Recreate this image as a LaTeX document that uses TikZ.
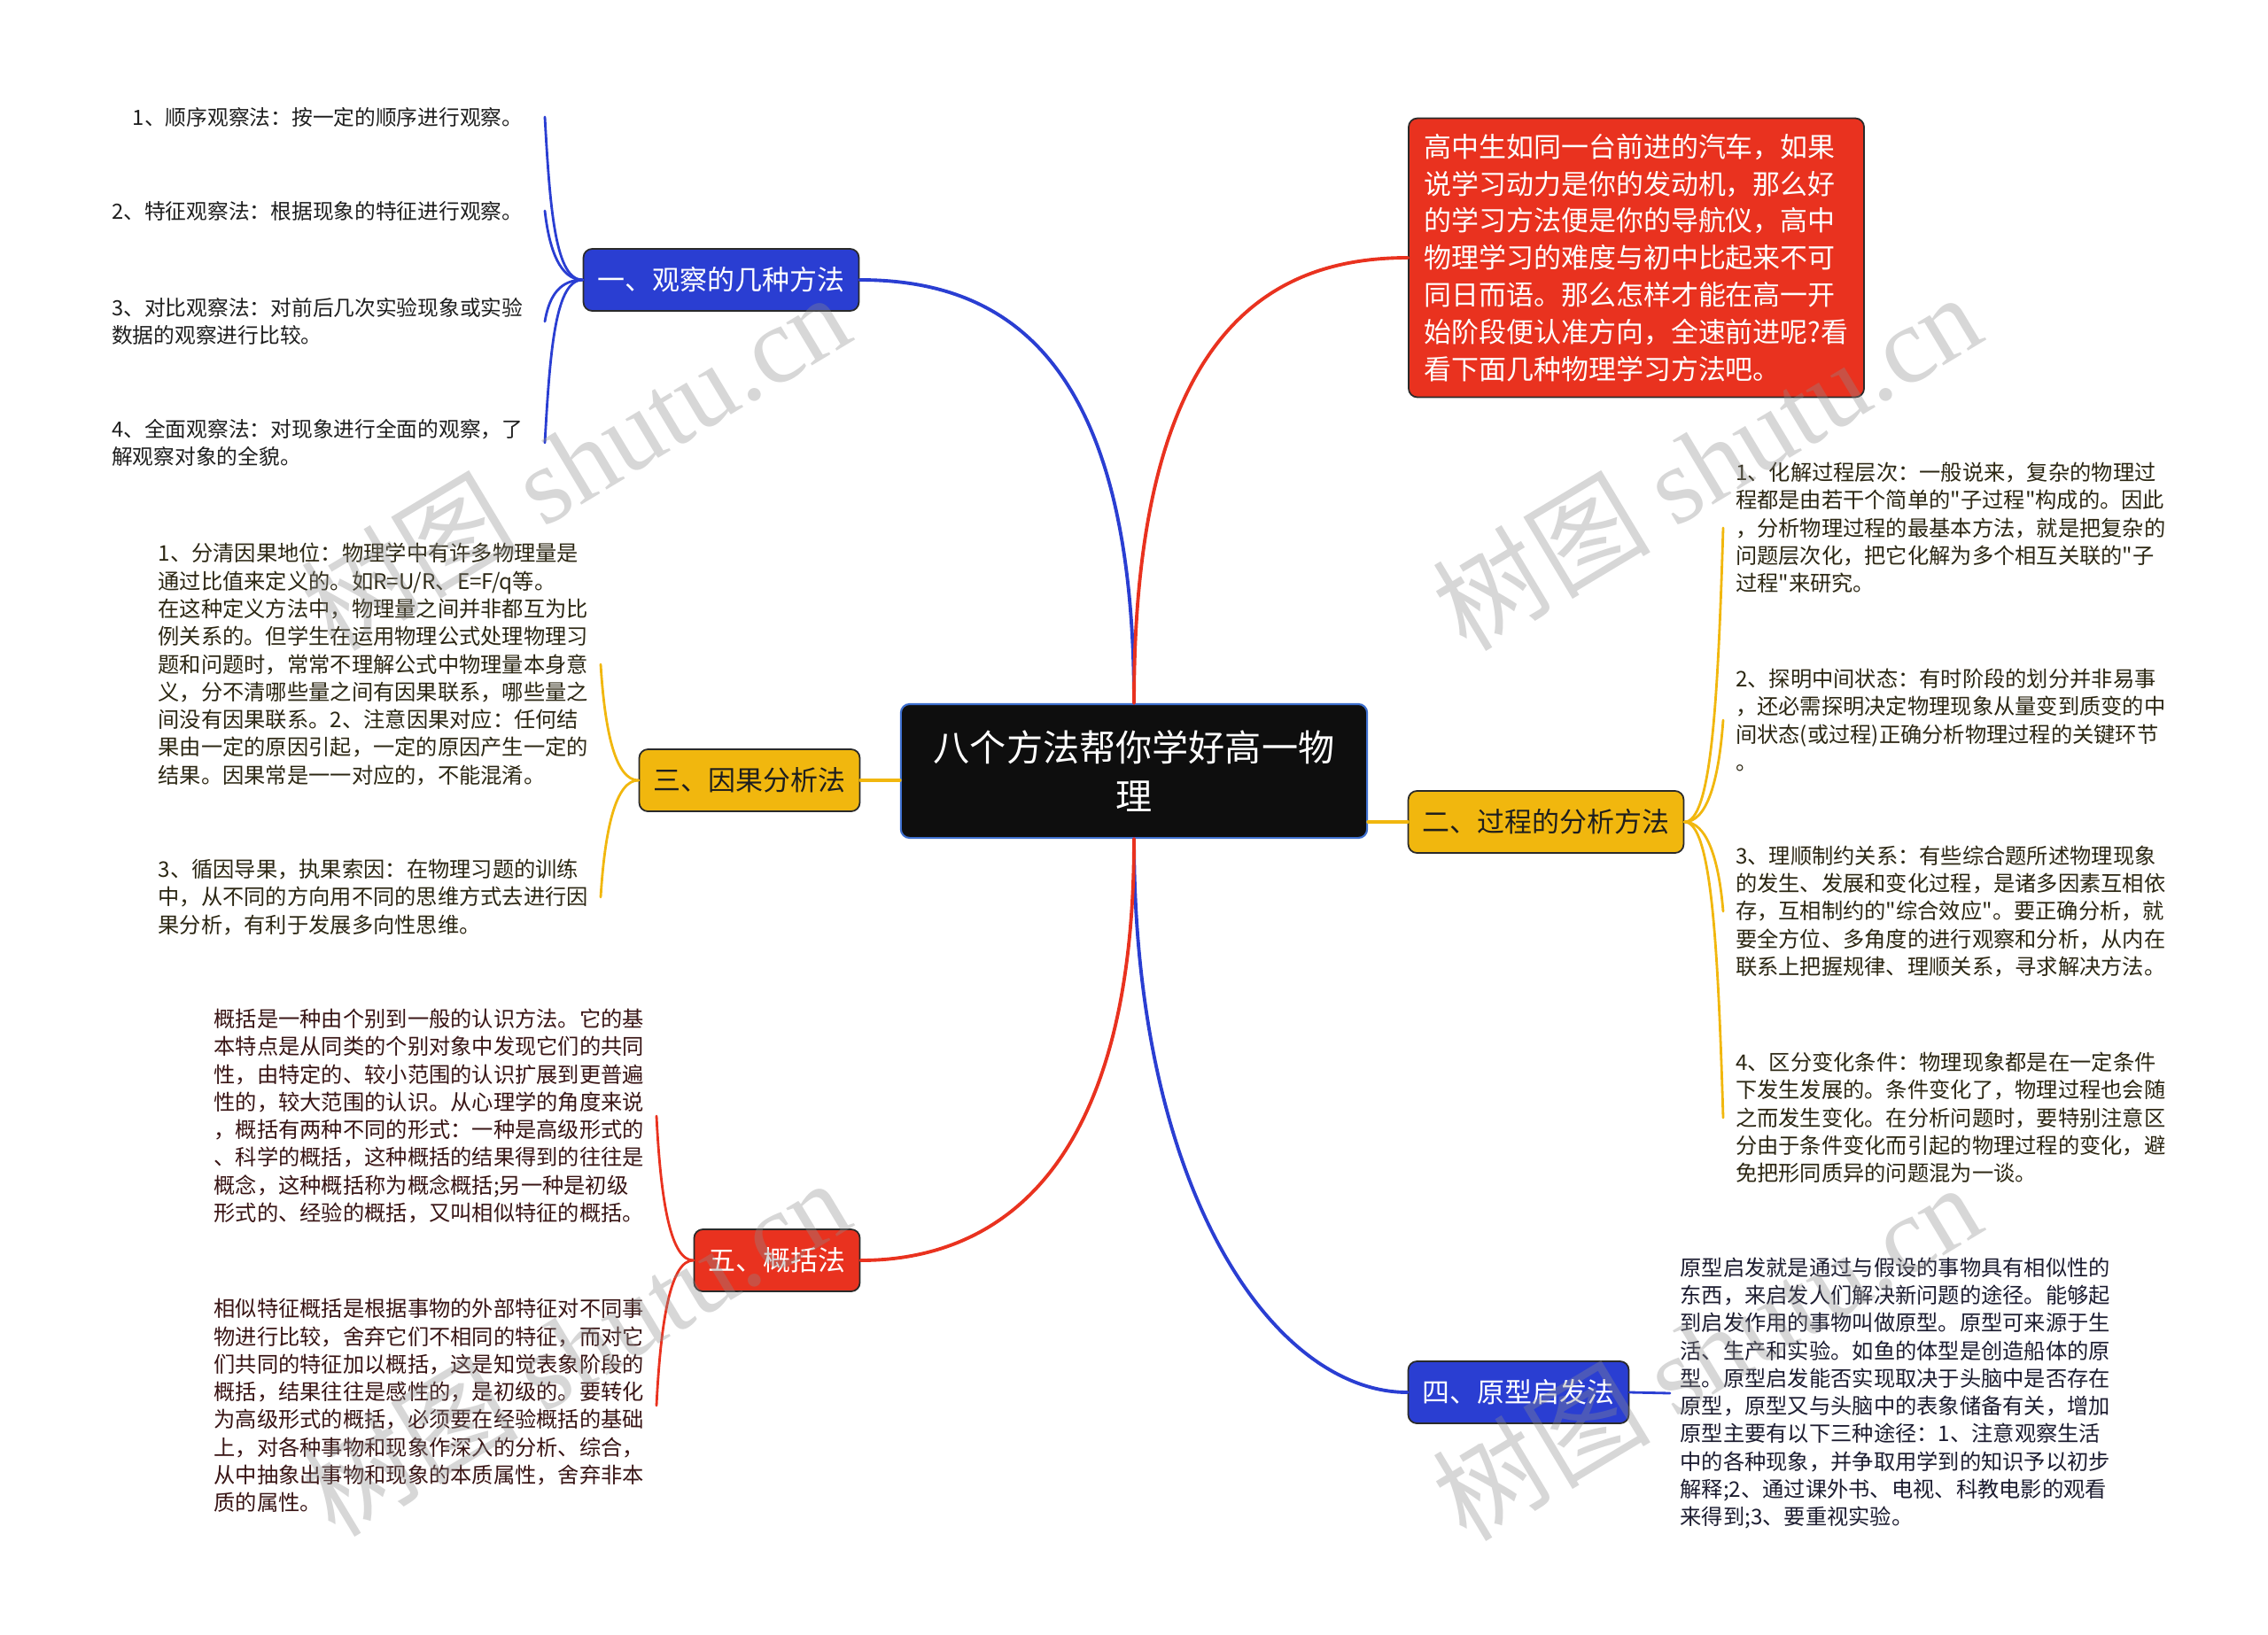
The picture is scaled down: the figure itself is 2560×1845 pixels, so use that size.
\documentclass[tikz,border=0pt]{standalone}
\usepackage{fontspec}
\setmainfont{Noto Sans CJK SC}[Ligatures=TeXOff] % 中文正文字体，保留直引号
\newfontfamily\wmlatin{Liberation Serif} % 水印里的西文
\usetikzlibrary{positioning}

% ---- 配色 ----
\definecolor{mapblue}{HTML}{2A3ED2}
\definecolor{mapred}{HTML}{E9321F}
\definecolor{mapyellow}{HTML}{F1B70E}
\definecolor{mapblack}{HTML}{0E0E0E}
\definecolor{rimblue}{HTML}{3E70CF}
\definecolor{boxrim}{HTML}{2A2A2A}
\definecolor{inkgray}{HTML}{1E1E1E}
\definecolor{inkyellow}{HTML}{2B2612}
\definecolor{inkred}{HTML}{381414}
\definecolor{inkblue}{HTML}{1C1C30}

\tikzset{
  hub/.style={rounded corners=2.8pt, fill=mapblack, draw=rimblue, line width=0.6pt, text=white,
    minimum width=5.26cm, minimum height=1.51cm, align=center, font=\fontsize{11.7pt}{15.4pt}\selectfont},
  topic/.style={rounded corners=2.8pt, draw=boxrim, line width=0.5pt, minimum height=0.7cm,
    inner xsep=4.6pt, font=\fontsize{8.8pt}{10pt}\selectfont},
  intro/.style={rounded corners=2.8pt, fill=mapred, draw=boxrim, line width=0.5pt, text=white,
    align=left, inner xsep=5pt, inner ysep=5pt, font=\fontsize{8.8pt}{11.9pt}\selectfont},
  leaf/.style={align=left, inner ysep=0pt, inner xsep=3.8pt, font=\fontsize{6.9pt}{8.9pt}\selectfont},
  trunk/.style={line width=1.1pt},       % 中心到主题的连线
  link/.style={line width=0.8pt},        % 主题到叶子的连线
  wmtext/.style={rotate=31, text=black!45, text opacity=0.35, font=\fontsize{35pt}{40pt}\selectfont}
}

\begin{document}
\begin{tikzpicture}[x=0.01cm, y=-0.01cm, line cap=round] % 坐标按像素写，y 向下
  \useasboundingbox (0,0) rectangle (2560,1845); % 画布大小

  % ======= 中心与主题 =======
  \node[hub] (hub) at (1280,870.5) {八个方法帮你学好高一物\\理};
  \node[intro] (intro) at (1847,291) {高中生如同一台前进的汽车，如果\\说学习动力是你的发动机，那么好\\的学习方法便是你的导航仪，高中\\物理学习的难度与初中比起来不可\\同日而语。那么怎样才能在高一开\\始阶段便认准方向，全速前进呢?看\\看下面几种物理学习方法吧。};
  \node[topic, fill=mapblue, text=white] (obs) at (814,316) {一、观察的几种方法};
  \node[topic, fill=mapyellow, text=inkgray] (proc) at (1745,928) {二、过程的分析方法};
  \node[topic, fill=mapyellow, text=inkgray] (cause) at (846,881) {三、因果分析法};
  \node[topic, fill=mapblue, text=white] (proto) at (1714,1572) {四、原型启发法};
  \node[topic, fill=mapred, text=white] (gen) at (877,1423) {五、概括法};

  % ======= 一、观察的几种方法 =======
  \node[leaf, text=inkgray, anchor=east, inner xsep=6.8pt, font=\fontsize{6.75pt}{8.9pt}\selectfont] (obs1) at (615,132) {1、顺序观察法：按一定的顺序进行观察。};
  \node[leaf, text=inkgray, anchor=east, inner xsep=6.8pt, font=\fontsize{6.75pt}{8.9pt}\selectfont] (obs2) at (615,238) {2、特征观察法：根据现象的特征进行观察。};
  \node[leaf, text=inkgray, anchor=east, inner xsep=6.8pt, font=\fontsize{6.75pt}{8.9pt}\selectfont] (obs3) at (615,363) {3、对比观察法：对前后几次实验现象或实验\\数据的观察进行比较。};
  \node[leaf, text=inkgray, anchor=east, inner xsep=6.8pt, font=\fontsize{6.75pt}{8.9pt}\selectfont] (obs4) at (615,500) {4、全面观察法：对现象进行全面的观察，了\\解观察对象的全貌。};

  % ======= 二、过程的分析方法 =======
  \node[leaf, text=inkyellow, anchor=west] (proc1) at (1945,596) {1、化解过程层次：一般说来，复杂的物理过\\程都是由若干个简单的"子过程"构成的。因此\\，分析物理过程的最基本方法，就是把复杂的\\问题层次化，把它化解为多个相互关联的"子\\过程"来研究。};
  \node[leaf, text=inkyellow, anchor=west] (proc2) at (1945,813) {2、探明中间状态：有时阶段的划分并非易事\\，还必需探明决定物理现象从量变到质变的中\\间状态(或过程)正确分析物理过程的关键环节\\。};
  \node[leaf, text=inkyellow, anchor=west] (proc3) at (1945,1029) {3、理顺制约关系：有些综合题所述物理现象\\的发生、发展和变化过程，是诸多因素互相依\\存，互相制约的"综合效应"。要正确分析，就\\要全方位、多角度的进行观察和分析，从内在\\联系上把握规律、理顺关系，寻求解决方法。};
  \node[leaf, text=inkyellow, anchor=west] (proc4) at (1945,1262) {4、区分变化条件：物理现象都是在一定条件\\下发生发展的。条件变化了，物理过程也会随\\之而发生变化。在分析问题时，要特别注意区\\分由于条件变化而引起的物理过程的变化，避\\免把形同质异的问题混为一谈。};

  % ======= 三、因果分析法 =======
  \node[leaf, text=inkyellow, anchor=east] (cause1) at (678,750) {1、分清因果地位：物理学中有许多物理量是\\通过比值来定义的。如R=U/R、E=F/q等。\\在这种定义方法中，物理量之间并非都互为比\\例关系的。但学生在运用物理公式处理物理习\\题和问题时，常常不理解公式中物理量本身意\\义，分不清哪些量之间有因果联系，哪些量之\\间没有因果联系。2、注意因果对应：任何结\\果由一定的原因引起，一定的原因产生一定的\\结果。因果常是一一对应的，不能混淆。};
  \node[leaf, text=inkyellow, anchor=east] (cause2) at (678,1013) {3、循因导果，执果索因：在物理习题的训练\\中，从不同的方向用不同的思维方式去进行因\\果分析，有利于发展多向性思维。};

  % ======= 四、原型启发法 =======
  \node[leaf, text=inkblue, anchor=west, inner xsep=3.1pt] (protoleaf) at (1885,1573) {原型启发就是通过与假设的事物具有相似性的\\东西，来启发人们解决新问题的途径。能够起\\到启发作用的事物叫做原型。原型可来源于生\\活、生产和实验。如鱼的体型是创造船体的原\\型。原型启发能否实现取决于头脑中是否存在\\原型，原型又与头脑中的表象储备有关，增加\\原型主要有以下三种途径：1、注意观察生活\\中的各种现象，并争取用学到的知识予以初步\\解释;2、通过课外书、电视、科教电影的观看\\来得到;3、要重视实验。};

  % ======= 五、概括法 =======
  \node[leaf, text=inkred, anchor=east] (gen1) at (741,1260) {概括是一种由个别到一般的认识方法。它的基\\本特点是从同类的个别对象中发现它们的共同\\性，由特定的、较小范围的认识扩展到更普遍\\性的，较大范围的认识。从心理学的角度来说\\，概括有两种不同的形式：一种是高级形式的\\、科学的概括，这种概括的结果得到的往往是\\概念，这种概括称为概念概括;另一种是初级\\形式的、经验的概括，又叫相似特征的概括。};
  \node[leaf, text=inkred, anchor=east] (gen2) at (741,1587) {相似特征概括是根据事物的外部特征对不同事\\物进行比较，舍弃它们不相同的特征，而对它\\们共同的特征加以概括，这是知觉表象阶段的\\概括，结果往往是感性的，是初级的。要转化\\为高级形式的概括，必须要在经验概括的基础\\上，对各种事物和现象作深入的分析、综合，\\从中抽象出事物和现象的本质属性，舍弃非本\\质的属性。};

  % ======= 中心到主题的连线 =======
  \draw[trunk, mapblue] (hub.north) .. controls +(0,-395) and +(160,0) .. (obs.east);
  \draw[trunk, mapred] (hub.north) .. controls +(0,-415) and +(-160,0) .. (intro.west);
  \draw[trunk, mapyellow] (cause.east) -- (cause.east -| hub.west);
  \draw[trunk, mapyellow] (hub.east |- proc.west) -- (proc.west);
  \draw[trunk, mapblue] (hub.south) .. controls +(0,400) and +(-150,0) .. (proto.west);
  \draw[trunk, mapred] (hub.south) .. controls +(0,380) and +(150,0) .. (gen.east);

  % ======= 主题到叶子的连线 =======
  \draw[link, mapblue] (obs.west) .. controls +(-30,0) and +(6,110) .. (obs1.east);
  \draw[link, mapblue] (obs.west) .. controls +(-25,0) and +(5,45) .. (obs2.east);
  \draw[link, mapblue] (obs.west) .. controls +(-25,0) and +(5,-30) .. (obs3.east);
  \draw[link, mapblue] (obs.west) .. controls +(-30,0) and +(6,-110) .. (obs4.east);
  \draw[link, mapyellow] (proc.east) .. controls +(30,0) and +(-6,200) .. (proc1.west);
  \draw[link, mapyellow] (proc.east) .. controls +(25,0) and +(-5,70) .. (proc2.west);
  \draw[link, mapyellow] (proc.east) .. controls +(25,0) and +(-5,-60) .. (proc3.west);
  \draw[link, mapyellow] (proc.east) .. controls +(30,0) and +(-6,-200) .. (proc4.west);
  \draw[link, mapyellow] (cause.west) .. controls +(-25,0) and +(5,80) .. (cause1.east);
  \draw[link, mapyellow] (cause.west) .. controls +(-25,0) and +(5,-80) .. (cause2.east);
  \draw[link, mapblue] (proto.east) -- (protoleaf.west);
  \draw[link, mapred] (gen.west) .. controls +(-25,0) and +(5,100) .. (gen1.east);
  \draw[link, mapred] (gen.west) .. controls +(-25,0) and +(5,-100) .. (gen2.east);

  % ======= 水印 =======
  \node[wmtext] (wm1) at (649,520) {树图 {\wmlatin shutu.cn}};
  \node[wmtext] (wm2) at (1926,520) {树图 {\wmlatin shutu.cn}};
  \node[wmtext] (wm3) at (649,1520) {树图 {\wmlatin shutu.cn}};
  \node[wmtext] (wm4) at (1926,1525) {树图 {\wmlatin shutu.cn}};
\end{tikzpicture}
\end{document}
